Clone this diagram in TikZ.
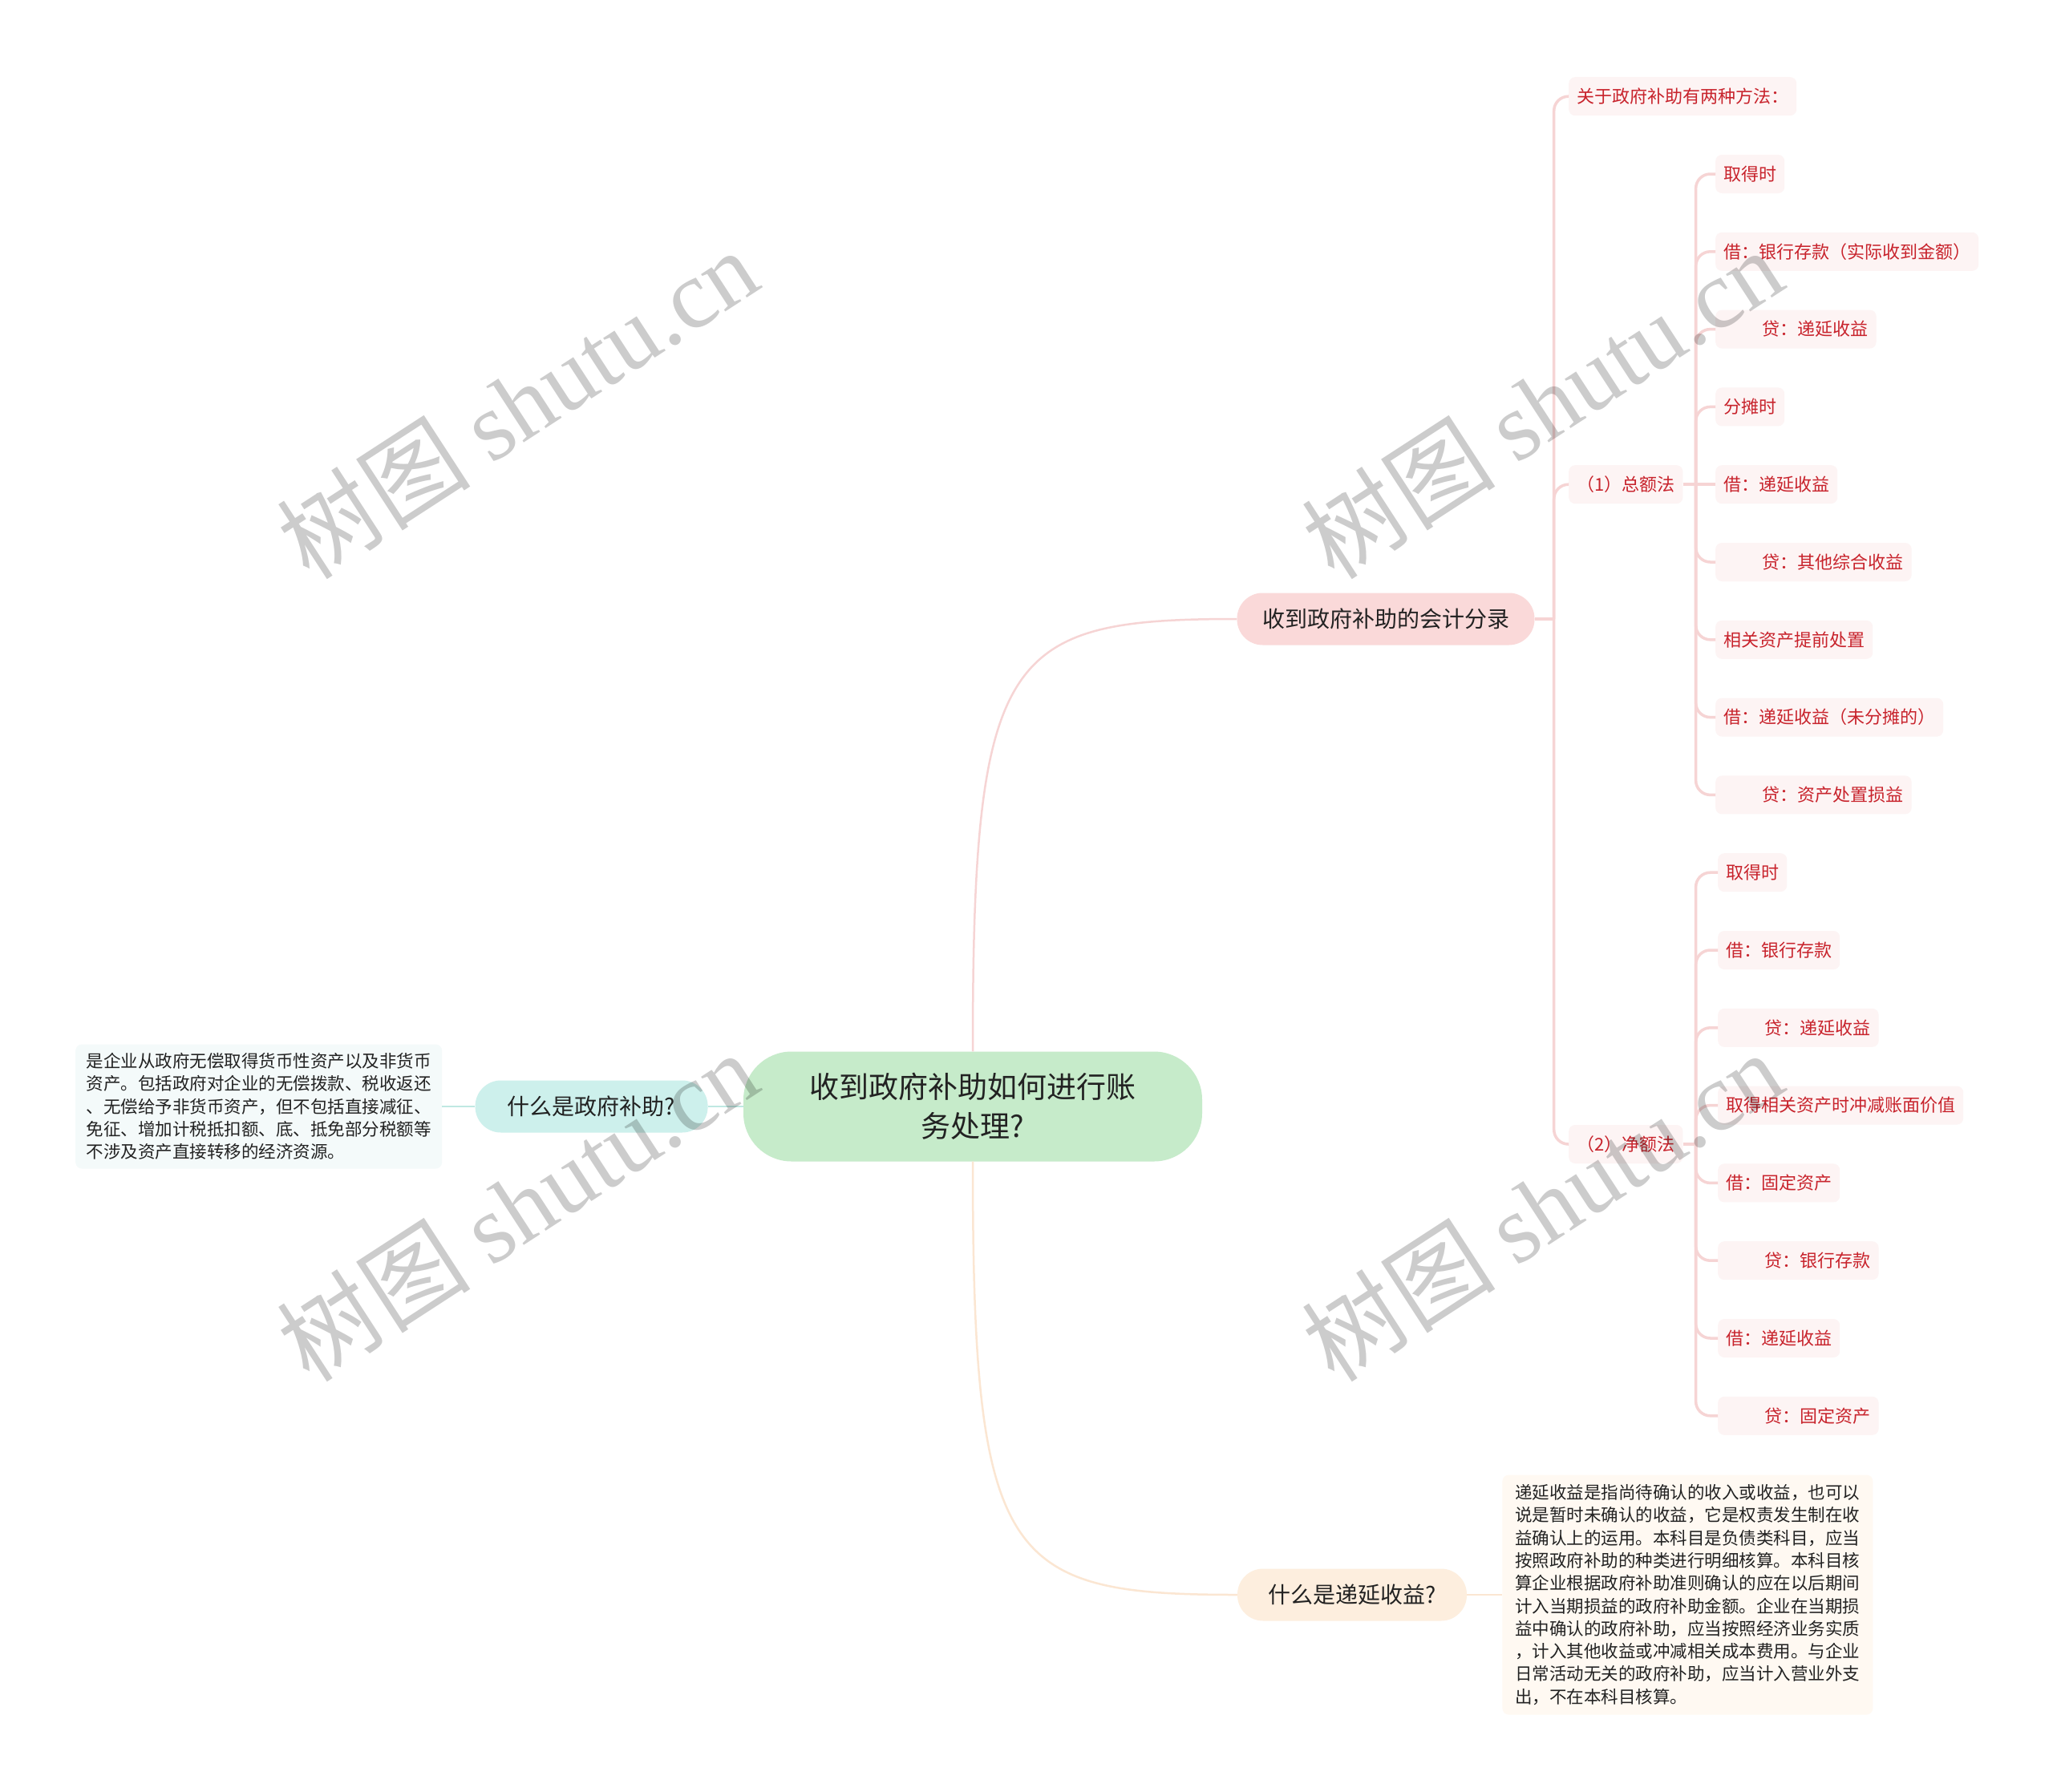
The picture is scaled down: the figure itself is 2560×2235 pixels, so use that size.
\documentclass[tikz,border=0pt]{standalone}
\usepackage{fontspec}
\setmainfont{Noto Sans CJK SC}
\newfontfamily\wmlatin{Liberation Serif}
\usepackage{tikz}
\usetikzlibrary{positioning,calc}

\definecolor{rootfill}{HTML}{C6EBCA}
\definecolor{accfill}{HTML}{FAD9D9}
\definecolor{govfill}{HTML}{CDF0EC}
\definecolor{deffill}{HTML}{FDEEDE}
\definecolor{leaffill}{HTML}{FDF4F4}
\definecolor{govnote}{HTML}{F4FAFA}
\definecolor{defnote}{HTML}{FFF9F2}
\definecolor{leafred}{HTML}{C8232C}
\definecolor{inkdark}{HTML}{222222}
\definecolor{pinkline}{HTML}{F6D4D4}
\definecolor{peachline}{HTML}{FBE6D2}
\definecolor{tealline}{HTML}{BFE8E2}

\begin{document}
\begin{tikzpicture}[
    x=1pt, y=-1pt,
    rootbox/.style={fill=rootfill, rounded corners=60pt, minimum width=572pt, minimum height=137pt, inner sep=0pt, align=center, text=inkdark, font=\fontsize{37}{49}\selectfont},
    topicbox/.style={rounded corners=32pt, minimum height=65pt, inner sep=0pt, text=inkdark, font=\fontsize{28}{34}\selectfont},
    notebox/.style={rounded corners=8pt, inner sep=0pt, align=left, text=inkdark, font=\fontsize{21.5}{28.3}\selectfont},
    leafbox/.style={fill=leaffill, rounded corners=8pt, minimum height=48pt, inner xsep=10pt, inner ysep=0pt, anchor=west, text=leafred, font=\fontsize{22}{26}\selectfont},
    linkline/.style={line width=2.5pt},
    branchline/.style={draw=pinkline, line width=3.5pt, rounded corners=18pt},
    wmtext/.style={rotate=33, text=black, text opacity=0.2, inner sep=0pt, font=\fontsize{121}{121}\selectfont}
]
\fill[white] (0,0) rectangle (2560,2235);
\useasboundingbox (0,0) rectangle (2560,2235);

% centre and first level
\node[rootbox] (root) at (1213,1380) {收到政府补助如何进行账\\务处理?};
\node[topicbox, fill=accfill, minimum width=371pt] (acc) at (1728,772) {收到政府补助的会计分录};
\node[topicbox, fill=govfill, minimum width=290pt, left=44pt of root] (gov) {什么是政府补助?};
\node[topicbox, fill=deffill, minimum width=286pt] (def) at (1686,1989) {什么是递延收益?};

% notes
\node[notebox, fill=govnote, minimum width=457pt, minimum height=155pt, left=41pt of gov] (govd) {是企业从政府无偿取得货币性资产以及非货币\\资产。包括政府对企业的无偿拨款、税收返还\\、无偿给予非货币资产，但不包括直接减征、\\免征、增加计税抵扣额、底、抵免部分税额等\\不涉及资产直接转移的经济资源。};
\node[notebox, fill=defnote, minimum width=462pt, minimum height=299pt, right=44pt of def] (defd) {递延收益是指尚待确认的收入或收益，也可以\\说是暂时未确认的收益，它是权责发生制在收\\益确认上的运用。本科目是负债类科目，应当\\按照政府补助的种类进行明细核算。本科目核\\算企业根据政府补助准则确认的应在以后期间\\计入当期损益的政府补助金额。企业在当期损\\益中确认的政府补助，应当按照经济业务实质\\，计入其他收益或冲减相关成本费用。与企业\\日常活动无关的政府补助，应当计入营业外支\\出，不在本科目核算。};

% second level
\node[leafbox] (m0) at (1956,120.2) {关于政府补助有两种方法：};
\node[leafbox] (m1) at (1956,604.2) {（1）总额法\hspace{0.7em}};
\node[leafbox] (m2) at (1956,1427) {（2）净额法\hspace{0.7em}};

% total amount method
\node[leafbox] (a0) at (2139,217) {取得时};
\node[leafbox] (a1) at (2139,313.8) {借：银行存款（实际收到金额）};
\node[leafbox] (a2) at (2139,410.6) {\hspace*{2.2em}贷：递延收益};
\node[leafbox] (a3) at (2139,507.4) {分摊时};
\node[leafbox] (a4) at (2139,604.2) {借：递延收益};
\node[leafbox] (a5) at (2139,701) {\hspace*{2.2em}贷：其他综合收益};
\node[leafbox] (a6) at (2139,797.8) {相关资产提前处置};
\node[leafbox] (a7) at (2139,894.6) {借：递延收益（未分摊的）};
\node[leafbox] (a8) at (2139,991.4) {\hspace*{2.2em}贷：资产处置损益};

% net amount method
\node[leafbox] (b0) at (2142,1088.2) {取得时};
\node[leafbox] (b1) at (2142,1185) {借：银行存款};
\node[leafbox] (b2) at (2142,1281.8) {\hspace*{2.2em}贷：递延收益};
\node[leafbox] (b3) at (2142,1378.6) {取得相关资产时冲减账面价值};
\node[leafbox] (b4) at (2142,1475.4) {借：固定资产};
\node[leafbox] (b5) at (2142,1572.2) {\hspace*{2.2em}贷：银行存款};
\node[leafbox] (b6) at (2142,1669) {借：递延收益};
\node[leafbox] (b7) at (2142,1765.8) {\hspace*{2.2em}贷：固定资产};

% links from the centre
\draw[linkline, draw=pinkline] (root.north) .. controls ($(root.north |- acc.west)+(0,40)$) and ($(root.north |- acc.west)+(40,0)$) .. (acc.west);
\draw[linkline, draw=peachline] (root.south) .. controls ($(root.south |- def.west)+(0,-40)$) and ($(root.south |- def.west)+(40,0)$) .. (def.west);
\draw[linkline, draw=tealline] (root.west) -- (gov.east);
\draw[linkline, draw=tealline] (gov.west) -- (govd.east);
\draw[linkline, draw=peachline] (def.east) -- (defd.west);

% branches
\coordinate (accj) at ($(acc.east)+(24,0)$);
\draw[branchline] (acc.east) -- (accj);
\draw[branchline] (accj) |- (m0.west);
\draw[branchline] (accj) |- (m1.west);
\draw[branchline] (accj) |- (m2.west);

\coordinate (m1j) at ($(m1.east)+(16,0)$);
\draw[branchline] (m1.east) -- (m1j);
\draw[branchline] (m1j) |- (a0.west);
\draw[branchline] (m1j) |- (a1.west);
\draw[branchline] (m1j) |- (a2.west);
\draw[branchline] (m1j) |- (a3.west);
\draw[branchline] (m1j) -- (a4.west);
\draw[branchline] (m1j) |- (a5.west);
\draw[branchline] (m1j) |- (a6.west);
\draw[branchline] (m1j) |- (a7.west);
\draw[branchline] (m1j) |- (a8.west);

\coordinate (m2j) at ($(m2.east)+(16,0)$);
\draw[branchline] (m2.east) -- (m2j);
\draw[branchline] (m2j) |- (b0.west);
\draw[branchline] (m2j) |- (b1.west);
\draw[branchline] (m2j) |- (b2.west);
\draw[branchline] (m2j) |- (b3.west);
\draw[branchline] (m2j) |- (b4.west);
\draw[branchline] (m2j) |- (b5.west);
\draw[branchline] (m2j) |- (b6.west);
\draw[branchline] (m2j) |- (b7.west);

% watermark
\node[wmtext] (wm1) at (645,503) {树图 {\wmlatin shutu.cn}};
\node[wmtext] (wm2) at (1923,503) {树图 {\wmlatin shutu.cn}};
\node[wmtext] (wm3) at (645,1504) {树图 {\wmlatin shutu.cn}};
\node[wmtext] (wm4) at (1923,1504) {树图 {\wmlatin shutu.cn}};
\end{tikzpicture}
\end{document}
